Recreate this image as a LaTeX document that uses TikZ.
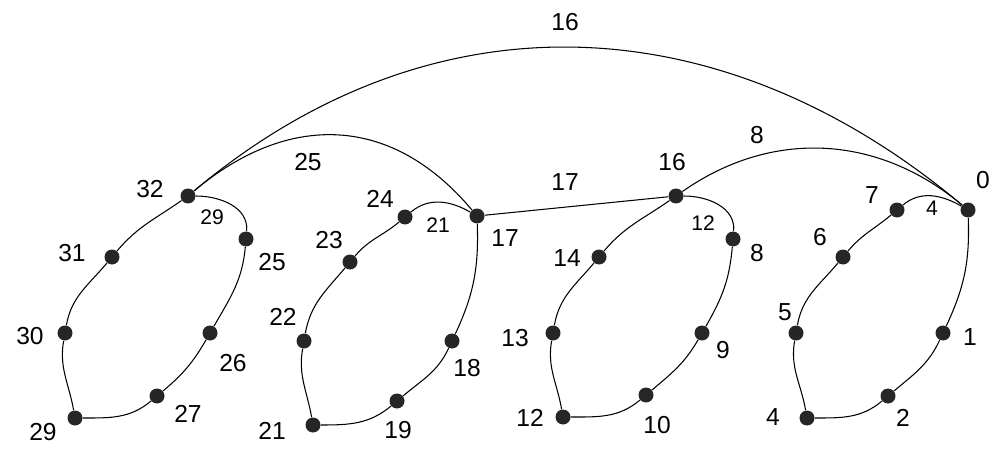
\documentclass[tikz,border=0pt]{standalone}
\usepackage{fontspec}
\setmainfont{Liberation Sans}

\begin{document}
\begin{tikzpicture}[
        dot/.style={circle, fill=black!85, inner sep=0pt, minimum size=0.3cm},
        lbl/.style={font=\fontsize{14}{16}\selectfont, inner sep=0pt},
        slbl/.style={font=\fontsize{12}{14}\selectfont, inner sep=0pt},
        ring/.style={line width=0.6pt},
        edge/.style={line width=0.6pt}
    ]

        \useasboundingbox (0,0) rectangle (19.8,9);

% Первое кольцо
        \node[dot] (v32) at (3.76,5.08) {};
        \node[dot] (v25) at (4.92,4.22) {};
        \node[dot] (v26) at (4.20,2.34) {};
        \node[dot] (v27) at (3.14,1.08) {};
        \node[dot] (v29) at (1.50,0.64) {};
        \node[dot] (v30) at (1.30,2.34) {};
        \node[dot] (v31) at (2.24,3.86) {};

% Второе кольцо
        \node[dot] (v17) at (9.54,4.68) {};
        \node[dot] (v18) at (9.04,2.18) {};
        \node[dot] (v19) at (7.94,0.98) {};
        \node[dot] (v21) at (6.26,0.50) {};
        \node[dot] (v22) at (6.08,2.18) {};
        \node[dot] (v23) at (7.00,3.76) {};
        \node[dot] (v24) at (8.10,4.66) {};

% Третье кольцо
        \node[dot] (v16) at (13.52,5.08) {};
        \node[dot] (v8) at (14.66,4.22) {};
        \node[dot] (v9) at (14.04,2.34) {};
        \node[dot] (v10) at (12.92,1.10) {};
        \node[dot] (v12) at (11.26,0.66) {};
        \node[dot] (v13) at (11.06,2.34) {};
        \node[dot] (v14) at (11.98,3.86) {};

% Четвёртое кольцо
        \node[dot] (v0) at (19.36,4.80) {};
        \node[dot] (v1) at (18.86,2.34) {};
        \node[dot] (v2) at (17.76,1.08) {};
        \node[dot] (v4) at (16.14,0.64) {};
        \node[dot] (v5) at (15.92,2.34) {};
        \node[dot] (v6) at (16.86,3.86) {};
        \node[dot] (v7) at (17.94,4.80) {};

% Контуры колец
        \draw[ring] (v32) to[out=0, in=85] (v25) to[out=-95, in=60] (v26)
            to[out=-120, in=40] (v27) to[out=-140, in=0] (v29)
            to[out=100, in=-100] (v30) to[out=80, in=-130] (v31)
            to[out=50, in=-145] (v32);
        \draw[ring] (v24) to[out=40, in=150] (v17) to[out=-88, in=65] (v18)
            to[out=-115, in=40] (v19) to[out=-140, in=0] (v21)
            to[out=100, in=-100] (v22) to[out=80, in=-130] (v23)
            to[out=50, in=-140] (v24);
        \draw[ring] (v16) to[out=0, in=85] (v8) to[out=-95, in=60] (v9)
            to[out=-120, in=40] (v10) to[out=-140, in=0] (v12)
            to[out=100, in=-100] (v13) to[out=80, in=-130] (v14)
            to[out=50, in=-145] (v16);
        \draw[ring] (v7) to[out=40, in=150] (v0) to[out=-88, in=65] (v1)
            to[out=-115, in=40] (v2) to[out=-140, in=0] (v4)
            to[out=100, in=-100] (v5) to[out=80, in=-130] (v6)
            to[out=50, in=-140] (v7);

% Связи между кольцами
        \draw[edge] (v32) to[out=40, in=140, looseness=1.04] (v0);
        \draw[edge] (v32) to[out=40, in=130, looseness=1.14] (v17);
        \draw[edge] (v16) to[out=35, in=140] (v0);
        \draw[edge] (v17) -- (v16);

% Подписи вершин
        \node[lbl] (t32) at (3.00,5.22) {32};
        \node[slbl] (s29) at (4.24,4.66) {29};
        \node[lbl] (t25) at (5.44,3.76) {25};
        \node[lbl] (t26) at (4.66,1.74) {26};
        \node[lbl] (t27) at (3.76,0.72) {27};
        \node[lbl] (t29) at (0.86,0.36) {29};
        \node[lbl] (t30) at (0.60,2.28) {30};
        \node[lbl] (t31) at (1.44,3.94) {31};

        \node[lbl] (t24) at (7.60,5.02) {24};
        \node[slbl] (s21) at (8.76,4.50) {21};
        \node[lbl] (t17) at (10.10,4.24) {17};
        \node[lbl] (t23) at (6.58,4.20) {23};
        \node[lbl] (t22) at (5.66,2.66) {22};
        \node[lbl] (t18) at (9.34,1.64) {18};
        \node[lbl] (t19) at (7.96,0.40) {19};
        \node[lbl] (t21) at (5.44,0.38) {21};

        \node[lbl] (t16) at (13.44,5.76) {16};
        \node[slbl] (s12) at (14.06,4.54) {12};
        \node[lbl] (t8) at (15.14,3.94) {8};
        \node[lbl] (t14) at (11.34,3.84) {14};
        \node[lbl] (t13) at (10.30,2.24) {13};
        \node[lbl] (t9) at (14.46,2.00) {9};
        \node[lbl] (t10) at (13.14,0.50) {10};
        \node[lbl] (t12) at (10.60,0.64) {12};

        \node[lbl] (t7) at (17.44,5.10) {7};
        \node[slbl] (s4) at (18.64,4.84) {4};
        \node[lbl] (t0) at (19.66,5.40) {0};
        \node[lbl] (t6) at (16.40,4.26) {6};
        \node[lbl] (t5) at (15.70,2.76) {5};
        \node[lbl] (t1) at (19.40,2.26) {1};
        \node[lbl] (t2) at (18.06,0.64) {2};
        \node[lbl] (t4) at (15.46,0.66) {4};

% Подписи связей
        \node[lbl] (e16) at (11.30,8.56) {16};
        \node[lbl] (e25) at (6.16,5.76) {25};
        \node[lbl] (e17) at (11.30,5.36) {17};
        \node[lbl] (e8) at (15.14,6.30) {8};
    \end{tikzpicture}
\end{document}
